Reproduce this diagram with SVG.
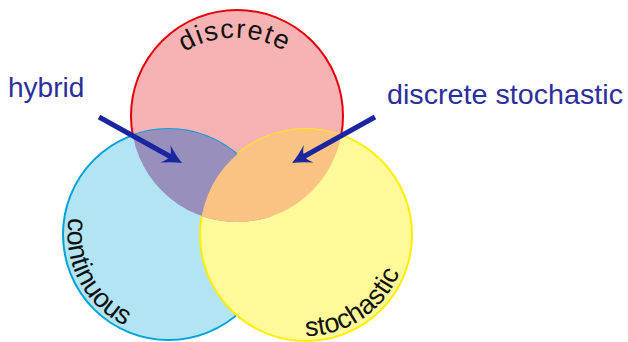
<svg xmlns="http://www.w3.org/2000/svg" width="628" height="342" viewBox="0 0 628 342">
<style>
.lbl{font-family:"Liberation Sans",Arial,sans-serif;font-size:28px;fill:#2B2E9B}
.arc{font-family:"Liberation Sans",Arial,sans-serif;font-size:27px;fill:#111}
.conn{stroke:#1C25A0;stroke-width:5;fill:none;marker-end:url(#head)}
</style>
<defs>
<clipPath id="clipRed"><circle cx="237" cy="116" r="106"/></clipPath>
<marker id="head" markerUnits="userSpaceOnUse" markerWidth="30" markerHeight="30" viewBox="-15 -15 30 30" refX="0" refY="0" orient="auto">
<path d="M10,0 Q2,-3 -9,-10 Q-4,-4 -4,0 Q-4,4 -9,10 Q2,3 10,0 Z" fill="#1C25A0"/>
</marker>
<path id="pDiscrete" d="M181,54 A98,98 0 0 1 289,54"/>
<path id="pContinuous" d="M72.2,204.1 A101,101 0 0 0 138.1,330.8"/>
<path id="pStochastic" d="M286.7,334.1 A101,101 0 0 0 405.1,254.3"/>
</defs>
<g id="node-discrete">
<circle cx="237" cy="116" r="106" fill="#F7B3B3" stroke="#E5000A" stroke-width="2"/>
</g>
<g id="node-continuous">
<circle cx="168.5" cy="234.5" r="105.5" fill="#B2E4F4" stroke="#00A0DA" stroke-width="2"/>
</g>
<g id="node-stochastic">
<circle cx="306" cy="235" r="106" fill="#FFF99A" stroke="#FFEE00" stroke-width="2"/>
</g>
<g id="overlaps">
<circle cx="168.5" cy="234.5" r="105.5" fill="#988FBC" clip-path="url(#clipRed)"/>
<circle cx="306" cy="235" r="106" fill="#F9C383" clip-path="url(#clipRed)"/>
</g>
<g id="set-labels">
<text class="arc" letter-spacing="1.5"><textPath href="#pDiscrete" startOffset="50%" text-anchor="middle">discrete</textPath></text>
<text class="arc"><textPath href="#pContinuous" startOffset="50%" text-anchor="middle">continuous</textPath></text>
<text class="arc"><textPath href="#pStochastic" startOffset="50%" text-anchor="middle">stochastic</textPath></text>
</g>
<g id="node-hybrid"><text class="lbl" x="8" y="97">hybrid</text></g>
<g id="node-discrete-stochastic"><text class="lbl" x="387" y="104" textLength="236" lengthAdjust="spacingAndGlyphs">discrete stochastic</text></g>
<g id="connectors">
<line class="conn" x1="99" y1="117" x2="173.3" y2="158.2"/>
<line class="conn" x1="375" y1="117" x2="300.8" y2="158.2"/>
</g>
</svg>
